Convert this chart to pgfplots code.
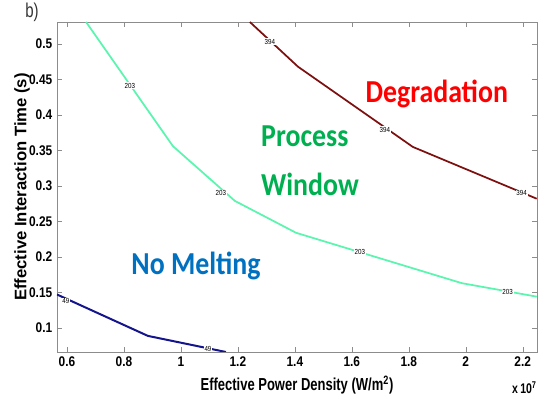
\documentclass[border=0pt]{standalone}
\usepackage{fontspec}
\setmainfont{Liberation Sans}
\newfontfamily\tickfont[FakeStretch=0.85]{Liberation Sans}
\newfontfamily\labfont[FakeStretch=0.75]{Liberation Sans}
\newfontfamily\calfont[FakeStretch=0.87]{Carlito}
\usepackage{pgfplots}
\pgfplotsset{compat=1.18}
\definecolor{cgreen}{RGB}{90,245,175}
\definecolor{cred}{RGB}{125,15,15}
\definecolor{cblue}{RGB}{20,20,140}
\definecolor{tred}{RGB}{255,0,0}
\definecolor{tgreen}{RGB}{0,176,80}
\definecolor{tblue}{RGB}{0,112,192}
\begin{document}
\begin{tikzpicture}
\begin{axis}[name=ax, at={(0,0)}, anchor=south west,
  scale only axis, width=360pt, height=247.5pt,
  xmin=0.565, xmax=2.25, ymin=0.066, ymax=0.531,
  xtick={0.6,0.8,1,1.2,1.4,1.6,1.8,2,2.2},
  ytick={0.1,0.15,0.2,0.25,0.3,0.35,0.4,0.45,0.5},
  tick align=inside, major tick length=4pt,
  axis line style={black!45}, tick style={black!45},
  /pgf/number format/assume math mode=true,
  ticklabel style={font=\tickfont\bfseries\fontsize{10.5}{12}\selectfont},
  xlabel={Effective Power Density (W/m\textsuperscript{2})},
  xlabel style={font=\labfont\bfseries\fontsize{13}{15}\selectfont, at={(axis description cs:0.5,-0.1)}, anchor=center},
  ylabel={Effective Interaction Time (s)},
  ylabel style={font=\bfseries\fontsize{12.5}{14}\selectfont, at={(axis description cs:-0.0729,0.5)}, anchor=center},
  clip=true]
\addplot[cgreen, line width=1.3pt] coordinates {(0.667,0.531) (0.972,0.356) (1.189,0.279) (1.404,0.234) (1.986,0.163) (2.249,0.144)};
\addplot[cred, line width=1.3pt] coordinates {(1.242,0.531) (1.411,0.468) (1.814,0.355) (2.249,0.282)};
\addplot[cblue, line width=1.5pt] coordinates {(0.565,0.147) (0.884,0.0887) (1.158,0.066)};
\begin{scope}[every node/.style={fill=white, inner sep=0.6pt, font=\tickfont\fontsize{5.5}{6}\selectfont}]
\node at (axis cs:0.821,0.441) {203};
\node at (axis cs:1.140,0.290) {203};
\node at (axis cs:1.628,0.207) {203};
\node at (axis cs:2.147,0.151) {203};
\node at (axis cs:1.312,0.503) {394};
\node at (axis cs:1.716,0.379) {394};
\node at (axis cs:2.196,0.290) {394};
\node at (axis cs:0.596,0.138) {49};
\node at (axis cs:1.095,0.070) {49};
\end{scope}
\node[anchor=base, text=tred, font=\calfont\bfseries\fontsize{24}{28}\selectfont] at (axis cs:1.898,0.417) {Degradation};
\node[anchor=base, text=tgreen, font=\calfont\bfseries\fontsize{24}{28}\selectfont] at (axis cs:1.435,0.355) {Process};
\node[anchor=base, text=tgreen, font=\calfont\bfseries\fontsize{24}{28}\selectfont] at (axis cs:1.453,0.287) {Window};
\node[anchor=base, text=tblue, font=\calfont\bfseries\fontsize{24}{28}\selectfont] at (axis cs:1.053,0.175) {No Melting};
\end{axis}
\node[anchor=east, inner sep=0.5pt, font=\labfont\bfseries\fontsize{10.5}{12}\selectfont] at (360.5pt,-27pt) {x\,10\textsuperscript{7}};
\node[text=black!80, font=\labfont\fontsize{15}{17}\selectfont] at (-18.75pt,255pt) {b)};
\pgfresetboundingbox
\path[use as bounding box] (-42.75pt,-34.5pt) rectangle (360.75pt,264pt);
\end{tikzpicture}
\end{document}
